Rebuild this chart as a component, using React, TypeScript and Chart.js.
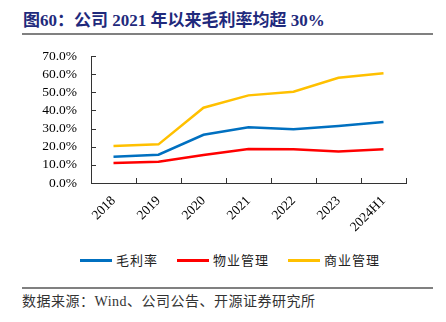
import React, { useEffect, useRef } from "react";
import { Chart, registerables } from "chart.js";

Chart.register(...registerables);

const categories = ["2018", "2019", "2020", "2021", "2022", "2023", "2024H1"];
const grossMargin = [14.5, 15.6, 26.6, 30.7, 29.6, 31.4, 33.6];
const propertyMgmt = [11.0, 11.7, 15.4, 18.7, 18.6, 17.3, 18.6];
const commercialMgmt = [20.4, 21.3, 41.5, 48.3, 50.3, 58.0, 60.5];
const seriesNames = ["毛利率", "物业管理", "商业管理"];
const seriesColors = ["#0070C0", "#FF0000", "#FFC000"];
const yTicks = [0, 10, 20, 30, 40, 50, 60, 70];

const AXIS = "#333333";

const inwardTicks = {
  id: "inwardTicks",
  afterDraw(chart: any) {
    const { ctx, chartArea, scales } = chart;
    const x = scales.x;
    const y = scales.y;
    ctx.save();
    ctx.strokeStyle = AXIS;
    ctx.lineWidth = 1;
    ctx.beginPath();
    for (let i = 0; i < y.ticks.length; i++) {
      const py = Math.round(y.getPixelForTick(i)) + 0.5;
      ctx.moveTo(chartArea.left, py);
      ctx.lineTo(chartArea.left + 5, py);
    }
    const step = x.getPixelForValue(1) - x.getPixelForValue(0);
    for (let i = 1; i <= categories.length; i++) {
      const px = Math.round(x.getPixelForValue(i) - step / 2) + 0.5;
      ctx.moveTo(px, chartArea.bottom);
      ctx.lineTo(px, chartArea.bottom - 5);
    }
    ctx.stroke();
    ctx.restore();
  },
};

export default function App() {
  const ref = useRef<HTMLCanvasElement>(null);
  useEffect(() => {
    document.body.style.margin = "0";
    const chart = new Chart(ref.current!, {
      type: "line",
      data: {
        labels: categories,
        datasets: [grossMargin, propertyMgmt, commercialMgmt].map((data, i) => ({
          label: seriesNames[i],
          data,
          borderColor: seriesColors[i],
          backgroundColor: seriesColors[i],
          borderWidth: 2.5,
          pointRadius: 0,
          tension: 0,
          fill: false,
        })),
      },
      options: {
        animation: false,
        responsive: false,
        maintainAspectRatio: false,
        layout: { padding: { top: 16, right: 40, left: 0, bottom: 0 } },
        plugins: {
          tooltip: { enabled: false },
          legend: { display: false },
        },
        scales: {
          x: {
            offset: true,
            grid: { display: false, drawTicks: false, offset: true },
            border: { display: true, color: AXIS, width: 1 },
            ticks: {
              autoSkip: false,
              maxRotation: 45,
              minRotation: 45,
              padding: 10,
              color: "#000",
              font: { family: "'Liberation Serif'", size: 13.5 },
            },
            afterFit: (s: any) => {
              s.height = 57;
            },
          },
          y: {
            min: 0,
            max: 70,
            afterBuildTicks: (s: any) => {
              s.ticks = yTicks.map((v) => ({ value: v }));
            },
            grid: { display: false, drawTicks: true, tickLength: 10 },
            border: { display: true, color: AXIS, width: 1 },
            ticks: {
              autoSkip: false,
              padding: 4,
              color: "#000",
              font: { family: "'Liberation Serif'", size: 13.5 },
              callback: (v: any) => Number(v).toFixed(1) + "%",
            },
            afterFit: (s: any) => {
              s.width = 91;
            },
          },
        },
      },
      plugins: [inwardTicks],
    });
    return () => chart.destroy();
  }, []);

  return (
    <div style={{ position: "relative", width: 446, height: 322, background: "#fff", overflow: "hidden" }}>
      <div
        style={{
          position: "absolute",
          left: 23,
          top: 10,
          fontFamily: "'Liberation Serif', 'Noto Sans CJK SC'",
          fontWeight: "bold",
          fontSize: 17,
          color: "#1F2A7C",
          whiteSpace: "nowrap",
          lineHeight: "22px",
        }}
      >
        图60：公司 2021 年以来毛利率均超 30%
      </div>
      <div style={{ position: "absolute", left: 22, top: 33, width: 411, height: 2, background: "#808080" }} />
      <canvas ref={ref} width={446} height={200} style={{ position: "absolute", left: 0, top: 40 }} />
      <div
        style={{
          position: "absolute",
          left: 80,
          top: 251,
          display: "flex",
          alignItems: "center",
          fontFamily: "'Noto Sans CJK SC'",
          fontSize: 13,
          color: "#222",
          whiteSpace: "nowrap",
          lineHeight: "18px",
        }}
      >
        {seriesNames.map((n, i) => (
          <div key={n} style={{ display: "flex", alignItems: "center", marginRight: 19 }}>
            <div style={{ width: 32, height: 3, background: seriesColors[i], marginRight: 4 }} />
            <span style={{ letterSpacing: 1 }}>{n}</span>
          </div>
        ))}
      </div>
      <div style={{ position: "absolute", left: 22, top: 287, width: 411, height: 1.5, background: "#808080" }} />
      <div
        style={{
          position: "absolute",
          left: 22,
          top: 293,
          fontFamily: "'Liberation Serif', 'Noto Sans CJK SC'",
          fontSize: 14,
          letterSpacing: 0.5,
          color: "#333",
          whiteSpace: "nowrap",
          lineHeight: "18px",
        }}
      >
        数据来源：Wind、公司公告、开源证券研究所
      </div>
    </div>
  );
}
